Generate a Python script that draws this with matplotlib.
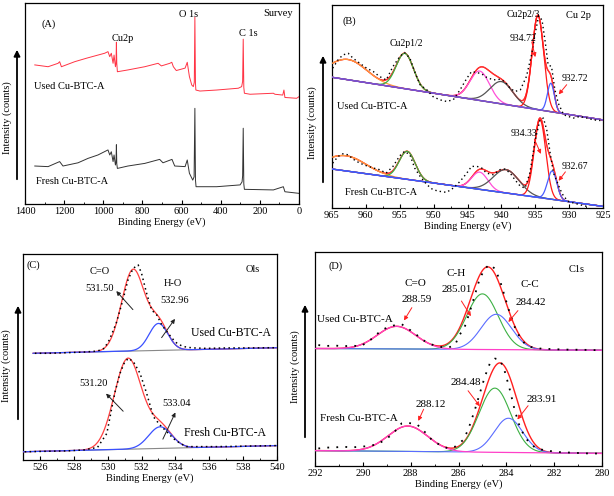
import matplotlib
matplotlib.use('Agg')
import matplotlib.pyplot as plt
import numpy as np
from matplotlib.patches import FancyArrowPatch
from matplotlib.ticker import MultipleLocator

plt.rcParams['font.family'] = ['Liberation Serif', 'DejaVu Serif']
plt.rcParams['font.size'] = 7.5

# (A) survey spectra, intensity in % of panel height
survey_used_e = [1350, 1282, 1231, 1223, 1214, 1146, 1087, 1027, 993, 976, 967, 959, 950, 945, 938,
                 935, 933, 931, 928, 874, 788, 720, 703, 660, 650, 642, 627, 582, 571, 560, 548, 540,
                 535, 532, 529, 527, 506, 421, 310, 293, 288, 285, 282, 279, 250, 131, 123, 83, 77, 72,
                 12, 0]
survey_used_i = [69.2, 68.3, 70.0, 70.8, 68.3, 70.8, 72.5, 74.1, 75.0, 75.8, 73.3, 75.0, 70.0, 74.1,
                 68.3, 70.0, 80.5, 70.0, 65.8, 66.7, 68.3, 70.0, 68.7, 70.0, 70.5, 68.3, 66.4, 67.6,
                 70.5, 63.4, 59.2, 58.4, 60.5, 93.0, 60.0, 56.7, 56.2, 56.7, 57.6, 58.4, 61.0, 82.0,
                 58.0, 55.1, 54.6, 55.1, 54.6, 54.2, 56.7, 53.0, 52.6, 53.4]
survey_fresh_e = [1350, 1282, 1223, 1206, 1129, 1078, 1027, 976, 967, 959, 950, 945, 938, 935, 933,
                  931, 928, 874, 788, 712, 695, 649, 635, 582, 571, 560, 543, 536, 532, 529, 526, 421,
                  301, 291, 288, 285, 282, 279, 131, 80, 72, 0]
survey_fresh_i = [18.9, 18.6, 21.1, 18.9, 20.5, 22.7, 24.4, 26.9, 24.4, 26.0, 21.1, 24.4, 19.4, 21.0,
                  29.5, 20.0, 17.7, 18.9, 20.2, 22.2, 20.5, 22.2, 18.9, 18.6, 21.9, 15.3, 11.9, 13.5,
                  47.6, 12.0, 8.6, 8.6, 9.5, 11.0, 14.0, 37.7, 10.0, 7.3, 7.0, 8.6, 6.1, 5.3]

# (B) Cu 2p: linear background (at 965 and 925 eV) and fitted peaks
cu_used_bg = [64.4, 43.4]
cu_used_center = [962.6, 954.25, 943.2, 940.0, 934.6, 932.7]
cu_used_height = [10.0, 17.4, 14.5, 11.0, 46.5, 14.0]
cu_used_fwhm = [6.5, 3.0, 3.4, 4.0, 2.0, 1.2]
cu_fresh_bg = [19.2, 0.8]
cu_fresh_center = [962.9, 953.9, 943.2, 939.3, 934.3, 932.5]
cu_fresh_height = [7.5, 13.8, 8.5, 11.5, 38.5, 14.0]
cu_fresh_fwhm = [7.0, 2.8, 2.8, 4.5, 2.0, 1.6]

cu_used_dot_e = [964.9, 964.1, 963.4, 962.6, 961.9, 960.9, 959.9, 958.9, 958.0, 957.0, 956.0, 955.0,
                 954.3, 953.5, 952.8, 952.0, 951.0, 950.1, 949.1, 948.1, 947.1, 946.1, 945.1, 944.4,
                 943.6, 942.9, 942.2, 941.2, 940.2, 939.5, 938.7, 938.0, 937.2, 936.3, 935.5, 935.0,
                 934.5, 934.0, 933.5, 933.1, 932.6, 932.1, 931.6, 930.8, 930.1, 929.4, 928.4, 927.4,
                 926.4, 925.4]
cu_used_dot_i = [68.9, 73.0, 75.4, 76.2, 73.8, 71.3, 68.9, 67.2, 64.8, 63.1, 69.7, 74.6, 76.6, 73.8,
                 67.2, 60.7, 58.2, 54.9, 53.3, 52.5, 53.3, 58.2, 63.9, 67.2, 66.7, 66.1, 64.4, 63.1,
                 63.4, 62.3, 59.0, 57.4, 58.2, 64.8, 76.2, 86.1, 94.6, 92.6, 81.1, 70.5, 69.7, 58.2,
                 51.6, 45.9, 45.1, 44.3, 45.1, 44.3, 43.4, 43.1]
cu_fresh_dot_e = [964.9, 964.1, 963.4, 962.6, 961.9, 960.9, 959.9, 958.9, 958.0, 957.0, 956.0, 955.0,
                  954.3, 953.5, 952.8, 952.0, 951.0, 950.1, 949.1, 948.1, 947.1, 946.1, 945.1, 944.4,
                  943.6, 942.9, 942.2, 941.2, 940.2, 939.5, 938.7, 938.0, 937.2, 936.5, 935.8, 935.0,
                  934.3, 933.8, 933.3, 932.8, 932.3, 931.8, 931.3, 930.8, 930.1, 929.4, 928.4, 927.4]
cu_fresh_dot_i = [22.1, 25.4, 26.7, 26.2, 24.1, 22.1, 20.8, 19.7, 18.9, 17.2, 20.5, 25.7, 27.9, 26.2,
                  19.7, 15.6, 11.5, 9.0, 8.2, 7.7, 9.8, 13.1, 17.2, 20.5, 20.5, 19.7, 17.2, 16.4,
                  18.9, 19.2, 17.2, 13.9, 10.7, 9.8, 17.2, 33.6, 43.4, 44.3, 38.5, 27.0, 17.2, 13.1,
                  9.0, 5.7, 3.3, 2.5, 1.6, 0.8]

# (C) O1s: background (at 525.6/525 and 540 eV) and two peaks (C=O, H-O)
o_used_bg_e = [525.6, 540.0]
o_used_bg = [51.8, 54.5]
o_used_center = [531.5, 533.0]
o_used_height = [39.4, 13.1]
o_used_fwhm = [1.6, 1.3]
o_fresh_bg_e = [525.0, 540.0]
o_fresh_bg = [4.0, 7.0]
o_fresh_center = [531.2, 533.1]
o_fresh_height = [44.0, 10.5]
o_fresh_fwhm = [1.9, 1.6]

o_used_dot_e = [525.7, 526.6, 527.6, 528.6, 529.4, 529.8, 530.1, 530.5, 530.9, 531.2, 531.5, 531.8,
                532.0, 532.3, 532.6, 532.9, 533.2, 533.5, 533.8, 534.1, 534.4, 534.7, 535.1, 535.8,
                537.0, 538.2, 539.4, 540.0]
o_used_dot_i = [51.8, 51.8, 52.1, 52.4, 52.9, 54.2, 58.3, 66.3, 77.7, 87.4, 93.0, 94.7, 90.6, 80.9,
                72.8, 70.4, 65.5, 62.3, 59.1, 56.6, 55.3, 54.7, 54.4, 54.2, 54.4, 54.4, 54.5, 54.5]
o_fresh_dot_e = [525.1, 526.2, 527.6, 528.6, 529.4, 529.95, 530.24, 530.44, 530.73, 530.97, 531.22,
                 531.52, 531.91, 532.3, 532.7, 533.09, 533.48, 533.87, 534.27, 534.66, 535.44,
                 536.42, 537.41, 538.58, 540.0]
o_fresh_dot_i = [4.0, 4.2, 4.4, 4.9, 6.1, 12.9, 25.1, 33.2, 42.1, 46.9, 49.4, 47.7, 42.1, 32.4, 21.0,
                 17.0, 13.8, 10.5, 8.1, 6.5, 6.5, 6.5, 6.6, 6.8, 7.0]

# (D) C1s: background (at 292 and 280 eV) and peaks C=O, C-H, C-C
c_used_bg = [54.9, 54.1]
c_used_center = [288.59, 285.0, 284.42]
c_used_height = [10.6, 26.0, 16.5]
c_used_fwhm = [1.9, 1.55, 1.5]
c_fresh_bg = [7.2, 5.9]
c_fresh_center = [288.12, 284.48, 283.91]
c_fresh_height = [11.9, 30.0, 16.0]
c_fresh_fwhm = [1.95, 1.56, 1.39]

c_used_dot_e = [291.86, 291.51, 291.16, 290.82, 290.47, 290.12, 289.77, 289.42, 289.08, 288.73,
                288.38, 288.17, 287.82, 287.48, 287.13, 286.78, 286.43, 286.15, 285.94, 285.74,
                285.53, 285.32, 285.11, 284.90, 284.69, 284.48, 284.27, 284.06, 283.85, 283.65,
                283.44, 283.23, 283.02, 282.60, 282.05, 281.49, 280.79, 280.10]
c_used_dot_i = [56.5, 56.1, 56.3, 55.9, 56.3, 55.9, 58.0, 61.6, 64.2, 65.6, 66.3, 64.7, 61.9, 58.8,
                56.8, 55.7, 55.3, 56.5, 61.5, 65.0, 72.0, 79.8, 87.6, 92.2, 94.2, 92.2, 86.8, 79.0,
                71.2, 65.0, 60.3, 57.2, 55.7, 54.9, 54.6, 54.4, 54.3, 54.1]
c_fresh_dot_e = [291.86, 291.51, 291.16, 290.82, 290.47, 290.12, 289.77, 289.42, 289.08, 288.73,
                 288.38, 288.17, 287.75, 287.48, 287.13, 286.78, 286.43, 286.15, 285.81, 285.60,
                 285.32, 285.11, 284.90, 284.69, 284.48, 284.27, 284.06, 283.85, 283.65, 283.44,
                 283.23, 283.02, 282.74, 282.33, 281.77, 281.21, 280.65, 280.10]
c_fresh_dot_i = [8.2, 8.6, 8.7, 9.0, 8.7, 9.0, 9.3, 10.1, 12.1, 15.2, 19.9, 20.2, 19.6, 16.8, 12.4,
                 9.8, 8.2, 9.0, 12.1, 16.8, 26.1, 33.9, 41.7, 47.9, 50.2, 49.8, 44.0, 35.5, 26.1,
                 18.4, 13.7, 10.6, 8.2, 7.2, 6.5, 6.2, 5.9, 5.8]


def gauss(x, c, h, w):
    return h * np.exp(-4 * np.log(2) * ((x - c) / w) ** 2)


def line_bg(x, x0, x1, y0, y1):
    return y0 + (y1 - y0) * (x - x0) / (x1 - x0)


DOT = (0, (1, 2.2))


def style(ax, xlim, major, minor):
    ax.set_xlim(*xlim)
    ax.set_ylim(0, 100)
    ax.xaxis.set_major_locator(MultipleLocator(major))
    ax.xaxis.set_minor_locator(MultipleLocator(minor))
    ax.tick_params(axis='x', which='both', direction='in', top=False, labelsize=7.5, pad=2)
    ax.tick_params(axis='x', which='major', length=3)
    ax.tick_params(axis='x', which='minor', length=1.5)
    ax.tick_params(axis='y', left=False, labelleft=False)
    ax.set_xlabel('Binding Energy (eV)', fontsize=7.5, labelpad=1)
    for s in ax.spines.values():
        s.set_linewidth(0.9)


fig = plt.figure(figsize=(6.14, 4.96), dpi=100)
W, H = 614, 496


def add_ax(l, t, r, b):
    return fig.add_axes([l / W, 1 - b / H, (r - l) / W, (b - t) / H])


axA = add_ax(25, 3, 299, 204)
axB = add_ax(332, 5, 603, 208)
axC = add_ax(23, 254, 277, 460)
axD = add_ax(315, 252, 602, 466)

# ---- (A)
axA.plot(survey_used_e, survey_used_i, color='#ff3344', lw=0.7)
axA.plot(survey_fresh_e, survey_fresh_i, color='#333333', lw=0.7)
style(axA, (1400, 0), 200, 100)
axA.text(1281, 89.4, '(A)', ha='center', va='center')
axA.text(898, 82.3, 'Cu2p', ha='center', va='center')
axA.text(565, 94.4, 'O 1s', ha='center', va='center')
axA.text(259, 84.8, 'C 1s', ha='center', va='center')
axA.text(106, 94.7, 'Survey', ha='center', va='center')
axA.text(1352, 58.6, 'Used Cu-BTC-A', ha='left', va='center')
axA.text(1344, 11.1, 'Fresh Cu-BTC-A', ha='left', va='center')

# ---- (B)
xb = np.linspace(965, 925, 1200)
cu_colors = ['#ff9a3c', '#3cb043', '#ff4fd8', '#555555', '#ff1a1a', '#4a5cff']
for bg, cen, hei, fw, bgc in [(cu_used_bg, cu_used_center, cu_used_height, cu_used_fwhm, '#7b52d0'),
                              (cu_fresh_bg, cu_fresh_center, cu_fresh_height, cu_fresh_fwhm, '#3a5cff')]:
    base = line_bg(xb, 965, 925, bg[0], bg[1])
    comps = [gauss(xb, c, h, w) for c, h, w in zip(cen, hei, fw)]
    env = base + np.sum(comps, axis=0)
    axB.plot(xb, env, color='#ff3030', lw=0.9, zorder=2)
    for comp, col in zip(comps, cu_colors):
        axB.plot(xb, base + comp, color=col, lw=0.9, zorder=3)
    axB.plot(xb, env, color='#ff3030', lw=0.9, zorder=2)
    axB.plot(xb, base, color=bgc, lw=1.0, zorder=4)
axB.plot(cu_used_dot_e, cu_used_dot_i, color='k', lw=1.0, ls=DOT, zorder=5)
axB.plot(cu_fresh_dot_e, cu_fresh_dot_i, color='k', lw=1.0, ls=DOT, zorder=5)
style(axB, (965, 925), 5, 2.5)
fs_b = 7
axB.text(962.4, 91.8, '(B)', ha='center', va='center')
axB.text(954.0, 81.1, 'Cu2p1/2', ha='center', va='center', fontsize=fs_b)
axB.text(936.8, 95.1, 'Cu2p2/3', ha='center', va='center', fontsize=fs_b)
axB.text(928.6, 94.6, 'Cu 2p', ha='center', va='center')
axB.text(936.8, 83.6, '934.72', ha='center', va='center', fontsize=fs_b)
axB.text(929.1, 63.9, '932.72', ha='center', va='center', fontsize=fs_b)
axB.text(936.7, 36.9, '934.33', ha='center', va='center', fontsize=fs_b)
axB.text(929.1, 20.5, '932.67', ha='center', va='center', fontsize=fs_b)
axB.text(964.3, 50.0, 'Used Cu-BTC-A', ha='left', va='center')
axB.text(963.1, 7.4, 'Fresh Cu-BTC-A', ha='left', va='center')
red_arr = dict(arrowstyle='-|>', color='#ff2020', lw=0.7, mutation_scale=6)
for tail, head in [((935.6, 83.1), (934.9, 73.0)), ((930.1, 61.8), (931.8, 54.9)),
                   ((935.3, 35.2), (934.0, 25.4)), ((930.3, 18.9), (931.8, 12.3))]:
    axB.annotate('', xy=head, xytext=tail, arrowprops=red_arr, zorder=6)

# ---- (C)
for bge, bg, cen, hei, fw in [(o_used_bg_e, o_used_bg, o_used_center, o_used_height, o_used_fwhm),
                              (o_fresh_bg_e, o_fresh_bg, o_fresh_center, o_fresh_height, o_fresh_fwhm)]:
    xc = np.linspace(bge[0], bge[1], 800)
    base = line_bg(xc, bge[0], bge[1], bg[0], bg[1])
    co = gauss(xc, cen[0], hei[0], fw[0])
    ho = gauss(xc, cen[1], hei[1], fw[1])
    axC.plot(xc, base, color='#888888', lw=0.8, zorder=2)
    axC.plot(xc, base + co + ho, color='#ff4040', lw=0.9, zorder=3)
    axC.plot(xc, base + ho, color='#3a50ff', lw=0.9, zorder=4)
axC.plot(o_used_dot_e, o_used_dot_i, color='k', lw=1.1, ls=DOT, zorder=5)
axC.plot(o_fresh_dot_e, o_fresh_dot_i, color='k', lw=1.1, ls=DOT, zorder=5)
style(axC, (525, 540), 2, 1)
fs_c = 7.5
axC.text(525.6, 94.7, '(C)', ha='center', va='center', fontsize=fs_c)
axC.text(529.55, 91.4, 'C=O', ha='center', va='center', fontsize=fs_c)
axC.text(529.55, 83.3, '531.50', ha='center', va='center', fontsize=fs_c)
axC.text(533.87, 85.8, 'H-O', ha='center', va='center', fontsize=fs_c)
axC.text(533.97, 77.3, '532.96', ha='center', va='center', fontsize=fs_c)
axC.text(538.55, 92.7, 'Ols', ha='center', va='center', fontsize=fs_c)
axC.text(529.16, 36.9, '531.20', ha='center', va='center', fontsize=fs_c)
axC.text(534.07, 27.5, '533.04', ha='center', va='center', fontsize=fs_c)
axC.text(534.95, 61.8, 'Used Cu-BTC-A', ha='left', va='center', fontsize=8.5)
axC.text(534.52, 13.3, 'Fresh Cu-BTC-A', ha='left', va='center', fontsize=8.5)
blk_arr = dict(arrowstyle='-|>', color='#222222', lw=0.7, mutation_scale=6)
for tail, head in [((531.6, 72.0), (530.4, 83.0)), ((533.09, 58.3), (534.07, 69.6)),
                   ((531.03, 22.7), (529.79, 33.2)), ((533.19, 8.9), (534.07, 24.3))]:
    axC.annotate('', xy=head, xytext=tail, arrowprops=blk_arr, zorder=6)

# ---- (D)
xd = np.linspace(292, 280, 1000)
c_colors = ['#ff40c8', '#3cb043', '#5a6cff']
for bg, cen, hei, fw in [(c_used_bg, c_used_center, c_used_height, c_used_fwhm),
                         (c_fresh_bg, c_fresh_center, c_fresh_height, c_fresh_fwhm)]:
    base = line_bg(xd, 292, 280, bg[0], bg[1])
    comps = [gauss(xd, c, h, w) for c, h, w in zip(cen, hei, fw)]
    axD.plot(xd, base + np.sum(comps, axis=0), color='#ff2020', lw=1.0, zorder=2)
    for comp, col in zip(comps[1:], c_colors[1:]):
        axD.plot(xd, base + comp, color=col, lw=0.8, zorder=3)
    axD.plot(xd, base + comps[0], color=c_colors[0], lw=0.9, zorder=4)
axD.plot(c_used_dot_e, c_used_dot_i, color='k', lw=1.3, ls=(0, (1, 4)), zorder=5)
axD.plot(c_fresh_dot_e, c_fresh_dot_i, color='k', lw=1.3, ls=(0, (1, 4)), zorder=5)
style(axD, (292, 280), 2, 1)
fs_d = 8
axD.text(291.12, 93.3, '(D)', ha='center', va='center', fontsize=7.5)
axD.text(287.82, 85.2, 'C=O', ha='center', va='center', fontsize=fs_d)
axD.text(287.75, 77.8, '288.59', ha='center', va='center', fontsize=fs_d)
axD.text(286.08, 89.9, 'C-H', ha='center', va='center', fontsize=fs_d)
axD.text(286.06, 82.4, '285.01', ha='center', va='center', fontsize=fs_d)
axD.text(283.02, 84.8, 'C-C', ha='center', va='center', fontsize=fs_d)
axD.text(282.99, 76.2, '284.42', ha='center', va='center', fontsize=fs_d)
axD.text(285.69, 38.9, '284.48', ha='center', va='center', fontsize=fs_d)
axD.text(287.16, 28.9, '288.12', ha='center', va='center', fontsize=fs_d)
axD.text(282.53, 31.1, '283.91', ha='center', va='center', fontsize=fs_d)
axD.text(281.07, 91.9, 'C1s', ha='center', va='center', fontsize=7.5)
axD.text(291.93, 68.4, 'Used Cu-BTC-A', ha='left', va='center', fontsize=fs_d)
axD.text(291.79, 22.2, 'Fresh Cu-BTC-A', ha='left', va='center', fontsize=fs_d)
for tail, head in [((287.89, 75.1), (288.34, 66.9)), ((285.94, 78.2), (285.42, 68.9)),
                   ((283.44, 73.6), (283.99, 66.3)), ((285.67, 36.2), (285.04, 26.9)),
                   ((287.41, 27.7), (287.73, 19.9)), ((283.02, 29.2), (283.61, 20.7))]:
    axD.annotate('', xy=head, xytext=tail, arrowprops=red_arr, zorder=6)

# y-axis labels with upward arrows, placed in figure pixels
for tx, ty, axx, y0, y1 in [(7, 118, 17, 182, 47), (312, 123, 323, 185, 53),
                            (6, 366, 18, 422, 303), (295, 367, 305, 440, 302)]:
    fig.text(tx / W, 1 - ty / H, 'Intensity (counts)', rotation=90, ha='center', va='center',
             fontsize=7.5)
    fig.add_artist(FancyArrowPatch((axx / W, 1 - y0 / H), (axx / W, 1 - y1 / H),
                                   transform=fig.transFigure, arrowstyle='-|>',
                                   mutation_scale=9, lw=1.3, color='k'))

fig.savefig('out.png', dpi=100)
